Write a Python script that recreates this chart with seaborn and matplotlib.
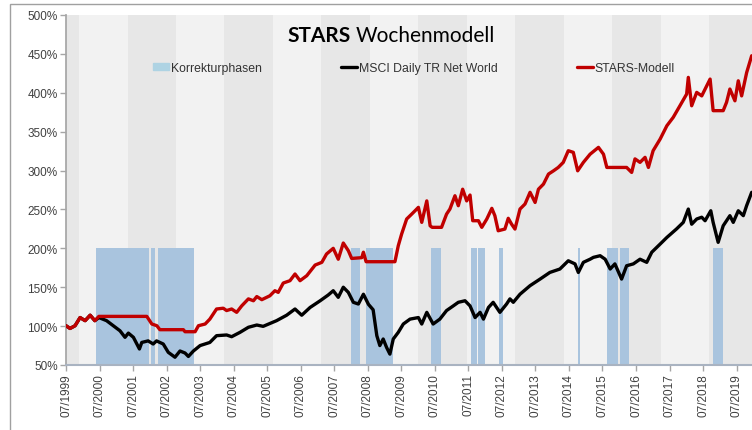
import numpy as np
import pandas as pd
import matplotlib.pyplot as plt
import matplotlib.patches as mpatches
from matplotlib.lines import Line2D
import seaborn as sns

# Zeitachse in Dezimaljahren (1999.5 = 07/1999), Werte in Prozent
msci_jahr = [1999.50, 1999.62, 1999.77, 1999.92, 2000.07, 2000.22, 2000.36, 2000.48, 2000.71, 2000.91,
             2001.11, 2001.26, 2001.36, 2001.51, 2001.69, 2001.76, 2001.95, 2002.10, 2002.20, 2002.40,
             2002.55, 2002.75, 2002.90, 2003.05, 2003.15, 2003.30, 2003.50, 2003.79, 2003.99, 2004.29,
             2004.44, 2004.69, 2004.94, 2005.19, 2005.38, 2005.78, 2006.08, 2006.33, 2006.53, 2006.78,
             2007.08, 2007.32, 2007.47, 2007.62, 2007.77, 2007.92, 2008.07, 2008.22, 2008.37, 2008.52,
             2008.66, 2008.77, 2008.86, 2008.96, 2009.06, 2009.16, 2009.26, 2009.41, 2009.56, 2009.76,
             2010.01, 2010.11, 2010.26, 2010.45, 2010.65, 2010.85, 2011.05, 2011.20, 2011.40, 2011.55,
             2011.70, 2011.85, 2011.95, 2012.10, 2012.24, 2012.44, 2012.64, 2012.74, 2012.84, 2013.04,
             2013.34, 2013.64, 2013.93, 2014.23, 2014.48, 2014.68, 2014.78, 2014.93, 2015.13, 2015.23,
             2015.43, 2015.58, 2015.73, 2015.87, 2016.07, 2016.22, 2016.42, 2016.62, 2016.82, 2016.97,
             2017.22, 2017.42, 2017.71, 2017.91, 2018.06, 2018.16, 2018.31, 2018.46, 2018.56, 2018.73,
             2018.80, 2018.95, 2019.10, 2019.30, 2019.40, 2019.55, 2019.70, 2019.80, 2019.95]
msci_wert = [100.5, 97, 100.5, 111, 107, 114, 107, 111, 107, 100.5,
             94, 85.6, 91, 85.6, 70.6, 79, 81, 77, 81, 77,
             66.3, 60, 68, 65.4, 61, 68, 75, 79, 87.7, 88.6,
             86.4, 92, 98.5, 101.4, 99.7, 107, 114, 122, 114, 124,
             132.6, 140, 145.5, 137, 150, 143.4, 130.6, 128.4, 141, 128,
             121, 87.7, 75, 83.4, 72.7, 64, 83.4, 92, 102.7, 109,
             111, 102.7, 117.7, 102.7, 109, 120, 126, 130.6, 132.6, 126,
             111, 117.7, 109, 124, 130.6, 117.7, 128.4, 135, 130.6, 141,
             152, 160.5, 169, 173.4, 184, 180, 169, 182, 186, 188.4,
             190.5, 186, 173.4, 180, 160.5, 177.6, 180, 186, 182, 195,
             205.5, 214, 225, 233.4, 250.5, 231, 237.7, 240, 235.5, 248.3,
             233.4, 207.7, 229, 242, 233.4, 248.3, 242, 255, 272]

stars_jahr = [1999.50, 1999.62, 1999.77, 1999.92, 2000.07, 2000.22, 2000.36, 2000.48, 2001.91, 2002.06,
              2002.21, 2002.30, 2003.00, 2003.05, 2003.35, 2003.45, 2003.65, 2003.79, 2003.99, 2004.19,
              2004.29, 2004.44, 2004.59, 2004.74, 2004.94, 2005.09, 2005.19, 2005.34, 2005.58, 2005.73,
              2005.83, 2005.98, 2006.18, 2006.33, 2006.48, 2006.68, 2006.93, 2007.13, 2007.27, 2007.47,
              2007.62, 2007.77, 2007.92, 2008.02, 2008.32, 2008.37, 2008.45, 2009.31, 2009.41, 2009.51,
              2009.66, 2009.81, 2009.91, 2010.01, 2010.11, 2010.26, 2010.36, 2010.42, 2010.70, 2010.85,
              2010.95, 2011.10, 2011.20, 2011.33, 2011.45, 2011.55, 2011.63, 2011.80, 2011.90, 2012.05,
              2012.20, 2012.29, 2012.39, 2012.59, 2012.69, 2012.79, 2012.89, 2013.04, 2013.19, 2013.34,
              2013.49, 2013.59, 2013.74, 2013.89, 2014.04, 2014.18, 2014.33, 2014.48, 2014.63, 2014.76,
              2014.93, 2015.13, 2015.38, 2015.53, 2015.63, 2016.22, 2016.37, 2016.47, 2016.62, 2016.77,
              2016.87, 2017.01, 2017.22, 2017.42, 2017.61, 2017.81, 2018.01, 2018.06, 2018.16, 2018.31,
              2018.46, 2018.61, 2018.71, 2018.80, 2019.10, 2019.20, 2019.30, 2019.45, 2019.55, 2019.65,
              2019.80, 2019.95]
stars_wert = [100.5, 97, 100.5, 111, 107, 114, 107, 112.5, 112.5, 102.7,
              100.5, 95.4, 95.4, 92.8, 92.8, 100.5, 102.7, 109, 122, 123,
              120, 122, 117.7, 126, 135, 132.6, 138, 134, 139, 145.5,
              143.4, 155.4, 158.4, 167, 158.4, 164.8, 178.5, 182, 192.7, 200,
              186, 206.8, 197, 187, 188, 195, 182.8, 182.8, 203.4, 218.4,
              237.7, 244, 248.3, 252.7, 233.4, 261, 229, 227, 227, 244,
              250.5, 267.6, 254.8, 276, 261, 268.5, 235.5, 235.5, 227, 237.7,
              251.4, 242, 222.6, 224.8, 238.6, 231, 224.8, 250.5, 257, 272,
              259, 276, 282.6, 295.5, 299.7, 304, 310.5, 325.5, 323.4, 299.7,
              310.5, 321, 329.8, 321, 304, 304, 297.6, 315, 310.5, 317,
              304, 325.5, 340.5, 357.6, 368.4, 383.3, 398.3, 419.8, 383.3, 400.5,
              396, 409, 417.6, 377, 377, 387.7, 404.8, 389.7, 415.4, 396,
              426, 447.6]

# Korrekturphasen (Beginn / Ende)
korrektur_start = [2000.39, 2002.03, 2002.24, 2008.00, 2008.46, 2010.40, 2011.59, 2011.80, 2012.40,
                   2014.78, 2015.62, 2016.01, 2018.81]
korrektur_ende = [2001.98, 2002.15, 2003.32, 2008.28, 2009.26, 2010.69, 2011.77, 2012.01, 2012.54,
                  2014.83, 2015.95, 2016.28, 2019.08]
korrektur_hoehe = 200

# Grenzen der grauen Hintergrundstreifen
streifen_grenzen = [1999.5, 1999.89, 2001.35, 2002.78, 2004.21, 2005.67, 2007.10, 2008.57, 2010.0,
                    2011.46, 2012.89, 2014.35, 2015.78, 2017.24, 2018.68, 2020.5]

tick_jahre = list(range(1999, 2020))
y_ticks = list(range(50, 501, 50))

sns.set_theme(style="white")
plt.rcParams['font.family'] = ['Liberation Sans', 'DejaVu Sans']

fig = plt.figure(figsize=(7.52, 4.31), dpi=100)
ax = fig.add_axes([66 / 752, 65 / 431, 700 / 752, 350 / 431])

# Hintergrundstreifen
for i in range(len(streifen_grenzen) - 1):
    farbe = '#e7e7e7' if i % 2 == 0 else '#f2f2f2'
    ax.axvspan(streifen_grenzen[i], streifen_grenzen[i + 1], color=farbe, lw=0, zorder=0)

# Korrekturphasen
for s, e in zip(korrektur_start, korrektur_ende):
    ax.fill_between([s, e], 50, korrektur_hoehe, color='#a9c4de', lw=0, zorder=1)

df_msci = pd.DataFrame({'jahr': msci_jahr, 'wert': msci_wert})
df_stars = pd.DataFrame({'jahr': stars_jahr, 'wert': stars_wert})
sns.lineplot(data=df_msci, x='jahr', y='wert', ax=ax, color='black', linewidth=2.4, zorder=3)
sns.lineplot(data=df_stars, x='jahr', y='wert', ax=ax, color='#c00000', linewidth=2.4, zorder=4)

ax.set_xlim(1999.5, 1999.5 + 700 / 33.53)
ax.set_ylim(50, 500)
ax.set_xticks([j + 0.5 for j in tick_jahre])
ax.set_xticklabels([f'07/{j}' for j in tick_jahre], rotation=90, fontsize=8.5, color='#404040')
ax.set_yticks(y_ticks)
ax.set_yticklabels([f'{v}%' for v in y_ticks], fontsize=8.5, color='#404040')
ax.set_xlabel('')
ax.set_ylabel('')
ax.tick_params(axis='both', direction='out', length=4, width=1, color='#a6a6a6', pad=2,
               bottom=True, left=True)
for side in ['top', 'right']:
    ax.spines[side].set_visible(False)
ax.spines['left'].set_color('#a6a6a6')
ax.spines['bottom'].set_color('#a9b3c1')
ax.spines['bottom'].set_linewidth(1.5)

# Titel
fig.text(351 / 752, (431 - 42) / 431, 'STARS', ha='right', va='baseline', fontsize=15,
         fontweight='bold', family=['Lato', 'DejaVu Sans'], color='black')
fig.text(356 / 752, (431 - 42) / 431, 'Wochenmodell', ha='left', va='baseline', fontsize=15,
         family=['Lato', 'DejaVu Sans'], color='black')

# Legende
handles = [mpatches.Patch(color='#aed3e3', label='Korrekturphasen'),
           Line2D([], [], color='black', lw=2.4, label='MSCI Daily TR Net World'),
           Line2D([], [], color='#c00000', lw=2.4, label='STARS-Modell')]
fig.legend(handles=handles, loc='center left', bbox_to_anchor=(153 / 752, (431 - 69) / 431),
           ncol=3, frameon=False, fontsize=8.8, handlelength=1.3, handletextpad=0.15,
           columnspacing=6.5, borderpad=0, borderaxespad=0, handleheight=0.55,
           labelcolor='#333333')

# Rahmen des Diagramms
fig.patches.append(mpatches.Rectangle((10 / 752, -0.2), 1.2, 1.2 - 5 / 431, transform=fig.transFigure,
                                      fill=False, edgecolor='#a0a0a0', lw=1))

fig.savefig('out.png', dpi=100)
